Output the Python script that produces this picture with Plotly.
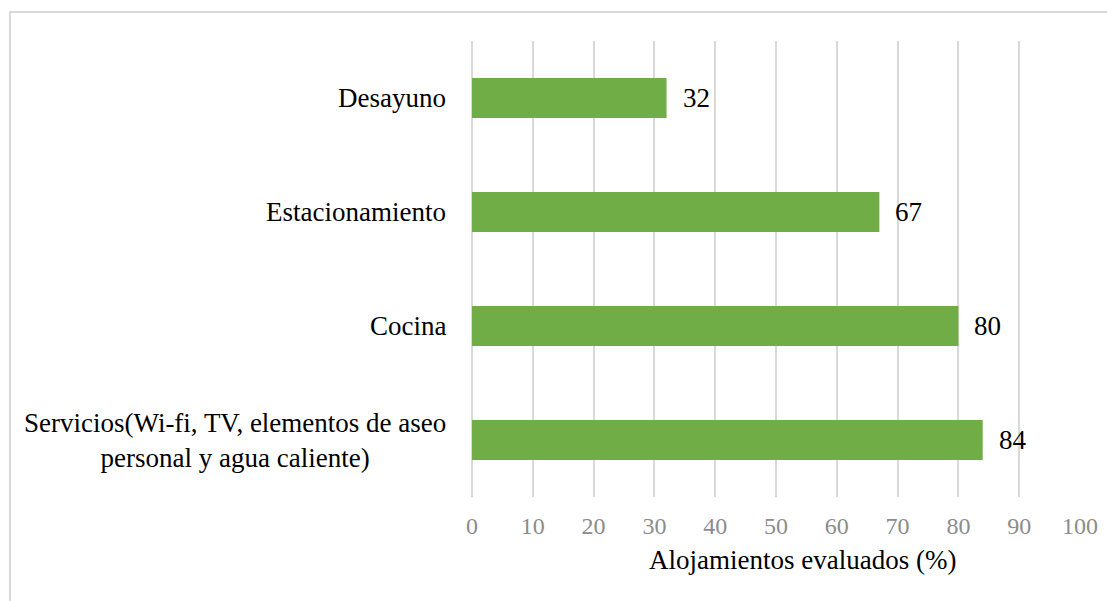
import plotly.graph_objects as go

# data (bottom to top, as plotly draws categories)
categories = [
    "Servicios(Wi-fi, TV, elementos de aseo<br>personal y agua caliente)",
    "Cocina",
    "Estacionamiento",
    "Desayuno",
]
values = [84, 80, 67, 32]
x_ticks = [0, 10, 20, 30, 40, 50, 60, 70, 80, 90, 100]
x_title = "Alojamientos evaluados (%)"

SERIF = "Liberation Serif"
GREEN = "#70AD47"
GRID = "#D9D9D9"

fig = go.Figure()
fig.add_trace(go.Bar(
    x=values, y=categories, orientation="h", width=0.35,
    marker=dict(color=GREEN, line=dict(width=0)),
    hoverinfo="x+y", showlegend=False,
))

annotations = []
# category labels, centred lines, right edge 24px left of the plot
for cat in categories:
    annotations.append(dict(
        xref="paper", yref="y", x=0, y=cat, xanchor="right", yanchor="middle",
        xshift=-24, text=cat, align="center", showarrow=False,
        font=dict(family=SERIF, size=27, color="#000000"),
    ))
# value labels just past each bar
for cat, val in zip(categories, values):
    annotations.append(dict(
        xref="x", yref="y", x=val, y=cat, xanchor="left", yanchor="middle",
        xshift=14, text=str(val), showarrow=False,
        font=dict(family=SERIF, size=27, color="#000000"),
    ))
# axis title
annotations.append(dict(
    xref="paper", yref="paper", x=0.5428, y=-0.138, xanchor="center", yanchor="middle",
    text=x_title, showarrow=False,
    font=dict(family=SERIF, size=27, color="#000000"),
))

# page body adds an 8px offset, so the figure is 8px smaller and margins shifted
fig.update_layout(
    width=1107, height=593,
    margin=dict(l=464, r=35, t=33, b=104),
    paper_bgcolor="white", plot_bgcolor="white",
    font=dict(family=SERIF),
    annotations=annotations,
    shapes=[dict(
        type="rect", xref="paper", yref="paper",
        x0=-0.7599, x1=1.2, y0=-0.4, y1=1.0636,
        line=dict(color=GRID, width=2), fillcolor="rgba(0,0,0,0)", layer="below",
    )],
    xaxis=dict(
        range=[0, 100], tickvals=x_ticks, showgrid=True, gridcolor=GRID, gridwidth=2,
        zeroline=True, zerolinecolor=GRID, zerolinewidth=2, showline=False,
        tickfont=dict(family=SERIF, size=24, color="#8C8C8C"),
        ticklabelstandoff=12, fixedrange=True,
    ),
    yaxis=dict(
        categoryorder="array", categoryarray=categories,
        showticklabels=False, showgrid=False, zeroline=False, showline=False,
        fixedrange=True,
    ),
)

fig.write_html("out.html")
